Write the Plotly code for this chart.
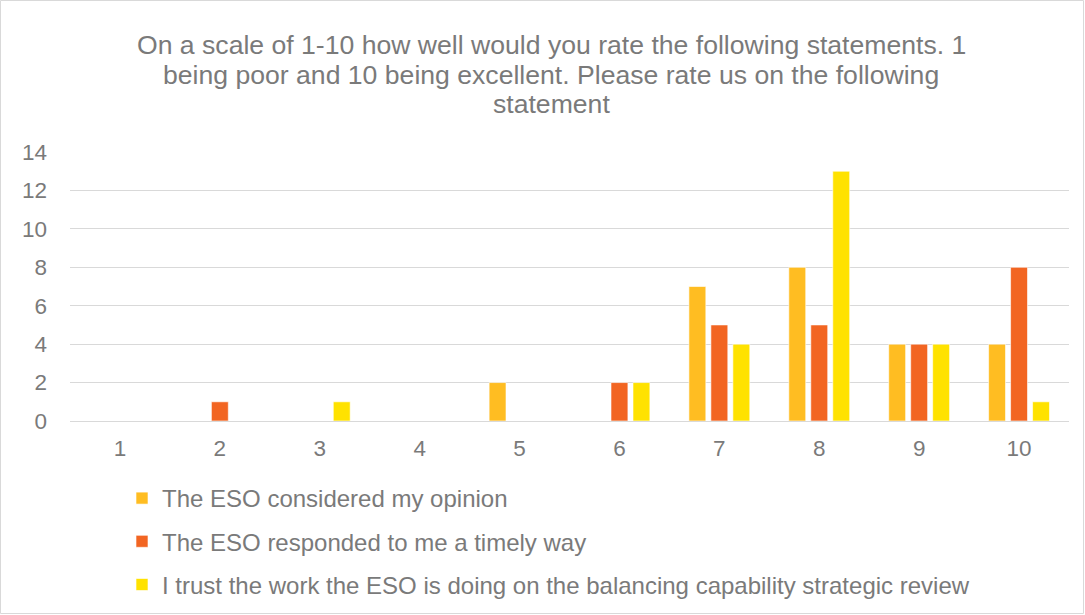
import plotly.graph_objects as go

categories = ["1", "2", "3", "4", "5", "6", "7", "8", "9", "10"]
series_names = [
    "The ESO considered my opinion",
    "The ESO responded to me a timely way",
    "I trust the work the ESO is doing on the balancing capability strategic review",
]
considered = [0, 0, 0, 0, 2, 0, 7, 8, 4, 4]
responded = [0, 1, 0, 0, 0, 2, 5, 5, 4, 8]
trust = [0, 0, 1, 0, 0, 2, 4, 13, 4, 1]
colors = ["#FFBD22", "#F26522", "#FFE200"]
title_lines = [
    "On a scale of 1-10 how well would you rate the following statements. 1",
    "being poor and 10 being excellent. Please rate us on the following",
    "statement",
]
y_ticks = [0, 2, 4, 6, 8, 10, 12, 14]

W, H = 1085, 615
ml, mr, mt, mb = 70, 16, 152, 194
pw, ph = W - ml - mr, H - mt - mb

font_family = "Arial, Liberation Sans, sans-serif"
text_color = "#7a7a7a"

fig = go.Figure()
for i, (name, vals) in enumerate(zip(series_names, [considered, responded, trust])):
    fig.add_trace(go.Bar(
        x=categories, y=vals, name=name,
        marker=dict(color=colors[i], line=dict(color="rgba(255,255,255,0.6)", width=1)),
        legendgroup=f"g{i}",
    ))


def px_x(p):
    return (p - ml) / pw


def px_y(p):
    return (H - mb - p) / ph


shapes = [dict(type="rect", xref="paper", yref="paper",
               x0=px_x(0.5), x1=px_x(W - 1.5), y0=px_y(H - 1.5), y1=px_y(0.5),
               line=dict(color="#d9d9d9", width=1), fillcolor="rgba(0,0,0,0)", layer="below")]

annotations = []
for line, ypix in zip(title_lines, [45, 75, 104]):
    annotations.append(dict(text=line, xref="paper", yref="paper", x=px_x(551), y=px_y(ypix),
                            xanchor="center", yanchor="middle", showarrow=False,
                            font=dict(family=font_family, size=26.6, color=text_color)))

fig.update_layout(
    width=W, height=H,
    margin=dict(l=ml, r=mr, t=mt, b=mb, autoexpand=False),
    paper_bgcolor="white", plot_bgcolor="white",
    font=dict(family=font_family, color=text_color),
    barmode="group", bargap=0.34, bargroupgap=0.23,
    showlegend=True,
    legend=dict(x=px_x(122), y=px_y(476), xanchor="left", yanchor="top",
                orientation="v", traceorder="grouped", tracegroupgap=9,
                font=dict(family=font_family, size=24, color=text_color),
                itemwidth=30, bgcolor="rgba(0,0,0,0)"),
    shapes=shapes, annotations=annotations,
    xaxis=dict(type="category", showgrid=False, showline=False, ticks="",
               tickfont=dict(family=font_family, size=22.5, color=text_color), ticklabelstandoff=11),
    yaxis=dict(range=[0, 14], tickvals=y_ticks, showgrid=True, gridcolor="#d9d9d9", gridwidth=1,
               zeroline=True, zerolinecolor="#d9d9d9", zerolinewidth=1, showline=False, ticks="",
               tickfont=dict(family=font_family, size=22.5, color=text_color), ticklabelstandoff=22),
)

fig.write_html("out.html", config={"displayModeBar": False},
               post_script="document.body.style.margin='0';document.body.style.overflow='hidden';")
